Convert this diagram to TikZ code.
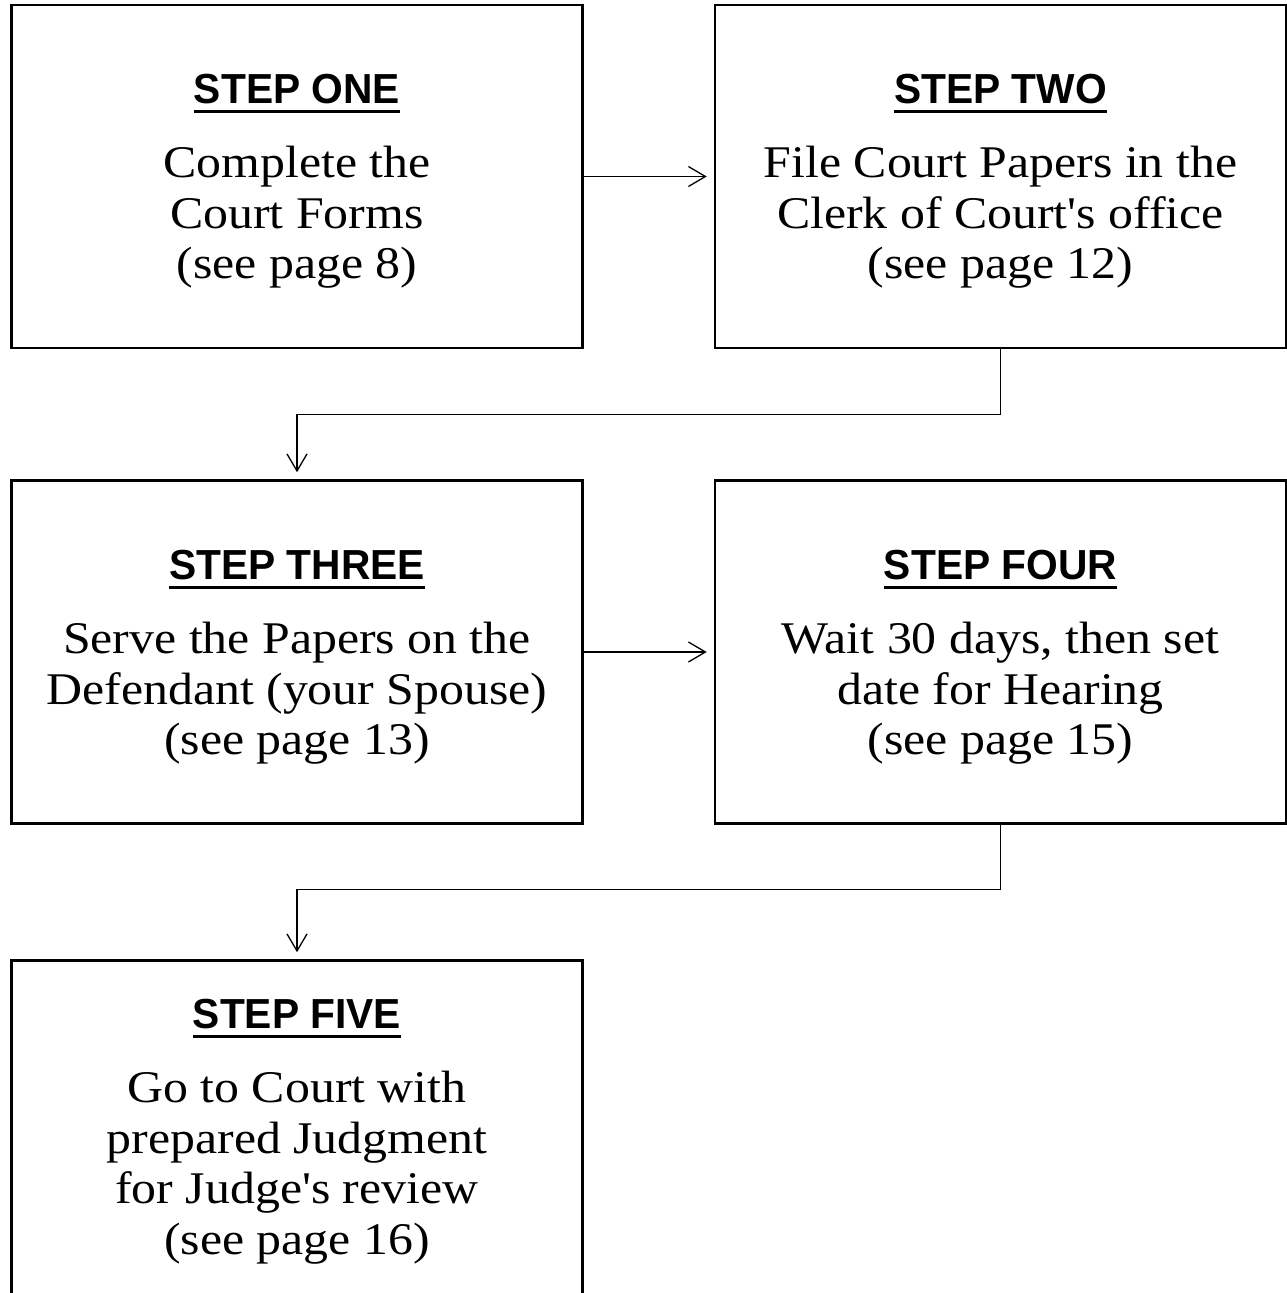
\documentclass[tikz,border=0pt]{standalone}
\usepackage{fontspec}
\usetikzlibrary{arrows.meta}
\setmainfont{Liberation Serif}
\newfontfamily\bodyfont[FakeStretch=1.1]{Liberation Serif}
\newfontfamily\headfont[FakeStretch=0.97]{Liberation Sans}
\begin{document}
\begin{tikzpicture}[x=1pt,y=-1pt,
  stepbox/.style={draw, line width=2.6pt, minimum width=571pt, minimum height=343pt, inner sep=0pt},
  headtext/.style={anchor=base, inner sep=0pt, font=\headfont\bfseries\fontsize{42}{50}\selectfont},
  bodytext/.style={anchor=north, inner sep=0pt, align=center, font=\bodyfont\fontsize{45.3}{50.5}\selectfont},
  uline/.style={line width=2.6pt},
  flow/.style={line width=1.3pt, -{Straight Barb[length=17pt,width=20pt,line width=1.3pt]}}]
\useasboundingbox (0,0) rectangle (1287,1293);
% boxes
\node[stepbox] (b1) at (297,176.5) {};
\node[stepbox] (b2) at (1000.5,176.5) {};
\node[stepbox] (b3) at (297,652) {};
\node[stepbox] (b4) at (1000.5,652) {};
\node[stepbox] (b5) at (297,1132) {};
% headings
\node[headtext] (h1) at (297,103) {STEP ONE};
\node[headtext] (h2) at (1000.5,103) {STEP TWO};
\node[headtext] (h3) at (297,579) {STEP THREE};
\node[headtext] (h4) at (1000.5,579) {STEP FOUR};
\node[headtext] (h5) at (297,1028) {STEP FIVE};
\foreach \h in {h1,h2,h3,h4,h5}
  \draw[uline] ([yshift=-8.5pt]\h.base west) -- ([yshift=-8.5pt]\h.base east);
% body texts
\node[bodytext] (t1) at (297,146) {Complete the\\Court Forms\\(see page 8)};
\node[bodytext] (t2) at (1000.5,146) {File Court Papers in the\\Clerk of Court's office\\(see page 12)};
\node[bodytext] (t3) at (297,622) {Serve the Papers on the\\Defendant (your Spouse)\\(see page 13)};
\node[bodytext] (t4) at (1000.5,622) {Wait 30 days, then set\\date for Hearing\\(see page 15)};
\node[bodytext] (t5) at (297,1071) {Go to Court with\\prepared Judgment\\for Judge's review\\(see page 16)};
% connectors
\draw[flow, shorten >=7pt] (b1.east) -- (b2.west);
\draw[flow, shorten >=7pt] (b3.east) -- (b4.west);
\draw[flow, shorten >=7pt] (b2.south) -- ++(0,65) -| (b3.north);
\draw[flow, shorten >=7pt] (b4.south) -- ++(0,65) -| (b5.north);
\end{tikzpicture}
\end{document}
